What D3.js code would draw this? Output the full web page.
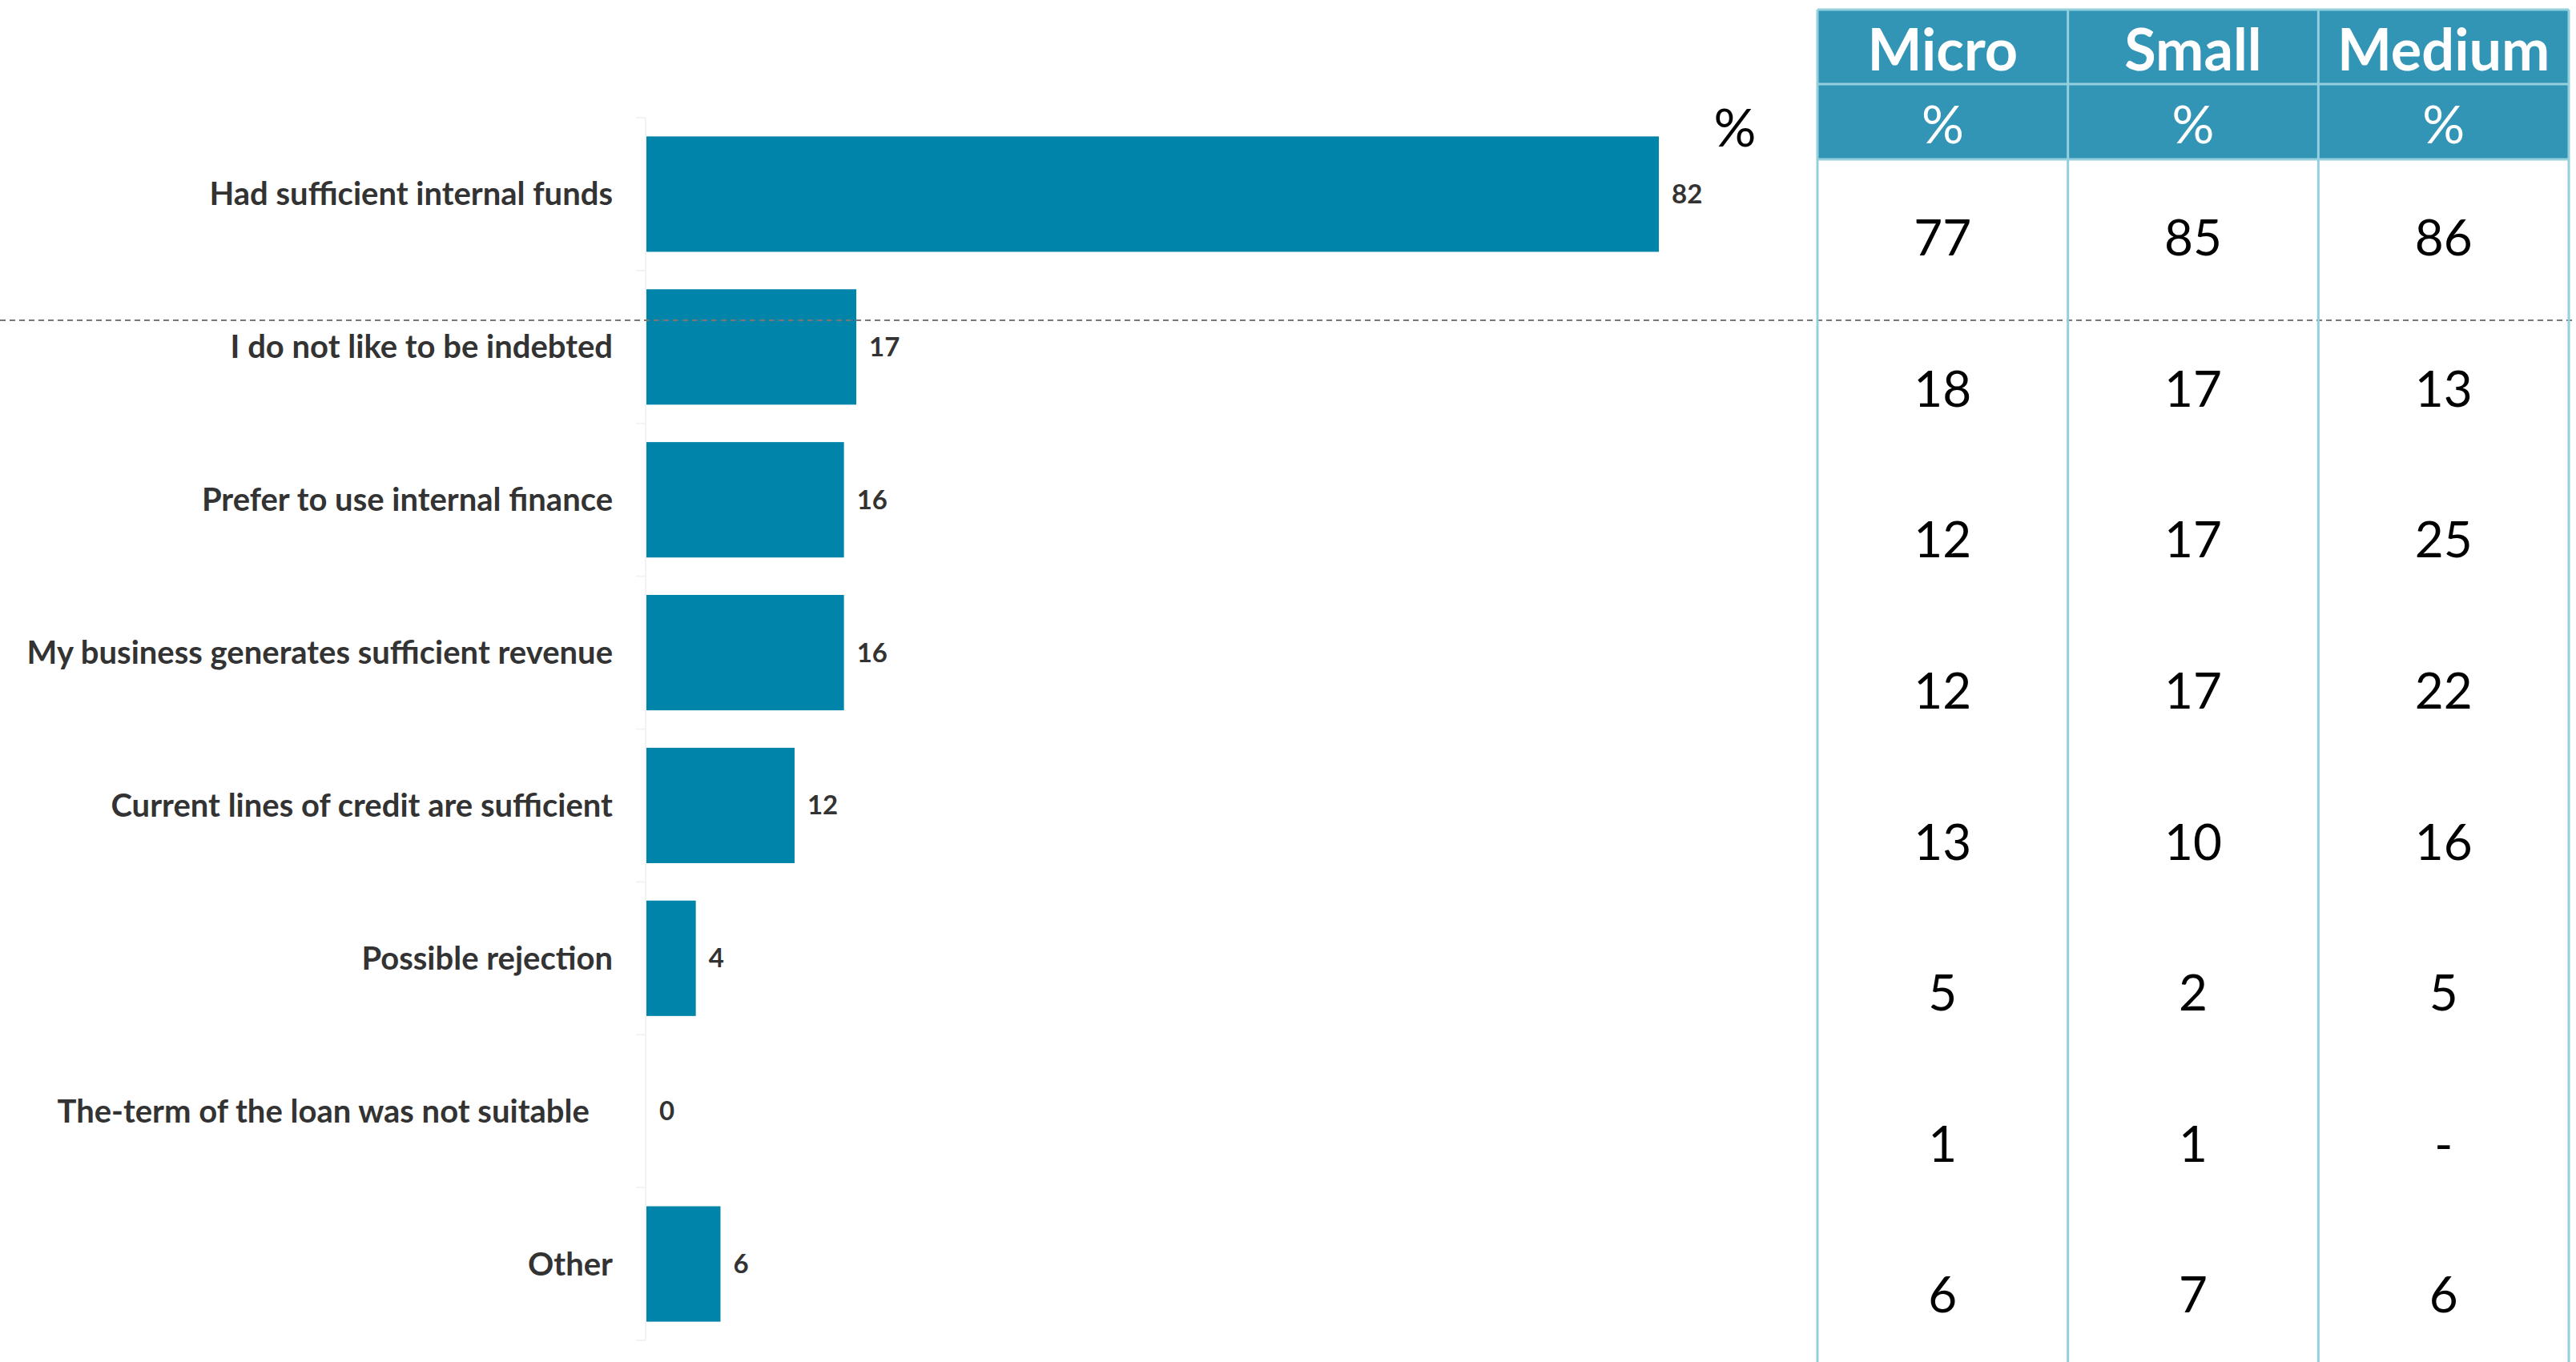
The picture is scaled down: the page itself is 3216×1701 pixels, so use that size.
<!DOCTYPE html>
<html>
<head>
<meta charset="utf-8">
<script src="https://cdn.jsdelivr.net/npm/d3@7"></script>
<style>
  body { margin: 0; background: #fff; }
  svg { display: block; font-family: Lato, "Open Sans", sans-serif; }
</style>
</head>
<body>
<div id="chart"></div>
<script>
// reasons for not applying for finance (% of all firms)
const categories = [
  "Had sufficient internal funds",
  "I do not like to be indebted",
  "Prefer to use internal finance",
  "My business generates sufficient revenue",
  "Current lines of credit are sufficient",
  "Possible rejection",
  "The-term of the loan was not suitable\u00a0\u00a0\u00a0",
  "Other"
];
const totals = [82, 17, 16, 16, 12, 4, 0, 6];

// breakdown by firm size
const sizeColumns = ["Micro", "Small", "Medium"];
const micro  = ["77", "18", "12", "12", "13", "5", "1", "6"];
const small  = ["85", "17", "17", "17", "10", "2", "1", "7"];
const medium = ["86", "13", "25", "22", "16", "5", "-", "6"];

const width = 3216;
const height = 1701;

const barColor = "#0084a9";
const headColor = "#3395b5";
const lineColor = "#93cfdc";

const svg = d3.select("#chart")
  .append("svg")
  .attr("width", width)
  .attr("height", height);

// bar scales
const x = d3.scaleLinear()
  .domain([0, 82])
  .range([807, 2071]);

const y = d3.scaleBand()
  .domain(categories)
  .range([147, 1674])
  .paddingInner(0.245)
  .paddingOuter(0.1225);

// faint category axis
svg.append("line")
  .attr("x1", x(0) - 1).attr("x2", x(0) - 1)
  .attr("y1", y.range()[0]).attr("y2", y.range()[1])
  .attr("stroke", "#f3f3f3")
  .attr("stroke-width", 2);

svg.selectAll(".tick-mark")
  .data(categories.concat([null]))
  .enter()
  .append("line")
  .attr("class", "tick-mark")
  .attr("x1", x(0) - 13).attr("x2", x(0) - 1)
  .attr("y1", (d, i) => y.range()[0] + i * y.step())
  .attr("y2", (d, i) => y.range()[0] + i * y.step())
  .attr("stroke", "#f3f3f3")
  .attr("stroke-width", 2);

// bars
svg.selectAll(".bar")
  .data(categories)
  .enter()
  .append("rect")
  .attr("class", "bar")
  .attr("x", x(0))
  .attr("y", d => y(d))
  .attr("width", (d, i) => x(totals[i]) - x(0))
  .attr("height", y.bandwidth())
  .attr("fill", barColor);

// category labels
svg.selectAll(".cat")
  .data(categories)
  .enter()
  .append("text")
  .attr("class", "cat")
  .attr("x", x(0) - 42)
  .attr("y", d => y(d) + y.bandwidth() / 2)
  .attr("dy", "0.35em")
  .attr("text-anchor", "end")
  .attr("font-size", 40)
  .attr("font-weight", 700)
  .attr("fill", "#333")
  .style("white-space", "pre")
  .text(d => d);

// value labels
svg.selectAll(".val")
  .data(categories)
  .enter()
  .append("text")
  .attr("class", "val")
  .attr("x", (d, i) => x(totals[i]) + 16)
  .attr("y", d => y(d) + y.bandwidth() / 2)
  .attr("dy", "0.35em")
  .attr("font-size", 33)
  .attr("font-weight", 700)
  .attr("fill", "#333")
  .text((d, i) => totals[i]);

svg.append("text")
  .attr("x", 2166)
  .attr("y", 160)
  .attr("dy", "0.35em")
  .attr("text-anchor", "middle")
  .attr("font-size", 66)
  .attr("fill", "#000")
  .text("%");

// dashed separator under first row
svg.append("line")
  .attr("x1", 0).attr("x2", width)
  .attr("y1", 400).attr("y2", 400)
  .attr("stroke", "#777")
  .attr("stroke-width", 2)
  .attr("stroke-dasharray", "7,5");

// table on the right
const cx = d3.scaleBand()
  .domain(sizeColumns)
  .range([2269, 3207]);

const ty = d3.scaleBand()
  .domain(categories)
  .range([203, 1712]);

const head1 = [12, 105];
const head2 = [105, 199];

const table = svg.append("g");

table.selectAll(".h1")
  .data(sizeColumns)
  .enter()
  .append("rect")
  .attr("x", d => cx(d))
  .attr("y", head1[0])
  .attr("width", cx.bandwidth())
  .attr("height", head2[1] - head1[0])
  .attr("fill", headColor);

// header lines
[head1[0], head1[1], head2[1]].forEach(yy => {
  table.append("line")
    .attr("x1", cx.range()[0]).attr("x2", cx.range()[1])
    .attr("y1", yy).attr("y2", yy)
    .attr("stroke", lineColor)
    .attr("stroke-width", 3);
});

// vertical column lines
const colEdges = sizeColumns.map(d => cx(d)).concat([cx.range()[1]]);
table.selectAll(".vline")
  .data(colEdges)
  .enter()
  .append("line")
  .attr("x1", d => d).attr("x2", d => d)
  .attr("y1", head1[0]).attr("y2", height)
  .attr("stroke", lineColor)
  .attr("stroke-width", 3);

table.selectAll(".hname")
  .data(sizeColumns)
  .enter()
  .append("text")
  .attr("x", d => cx(d) + cx.bandwidth() / 2)
  .attr("y", (head1[0] + head1[1]) / 2 + 4)
  .attr("dy", "0.35em")
  .attr("text-anchor", "middle")
  .attr("font-size", 72)
  .attr("font-weight", 700)
  .attr("fill", "#fff")
  .text(d => d);

table.selectAll(".hpct")
  .data(sizeColumns)
  .enter()
  .append("text")
  .attr("x", d => cx(d) + cx.bandwidth() / 2)
  .attr("y", (head2[0] + head2[1]) / 2 + 4)
  .attr("dy", "0.35em")
  .attr("text-anchor", "middle")
  .attr("font-size", 66)
  .attr("fill", "#fff")
  .text("%");

const columns = [micro, small, medium];
columns.forEach((vals, c) => {
  table.selectAll(".cell" + c)
    .data(categories)
    .enter()
    .append("text")
    .attr("x", cx(sizeColumns[c]) + cx.bandwidth() / 2)
    .attr("y", d => ty(d) + ty.bandwidth() / 2)
    .attr("dy", "0.35em")
    .attr("text-anchor", "middle")
    .attr("font-size", 62)
    .attr("fill", "#000")
    .text((d, i) => vals[i]);
});
</script>
</body>
</html>
